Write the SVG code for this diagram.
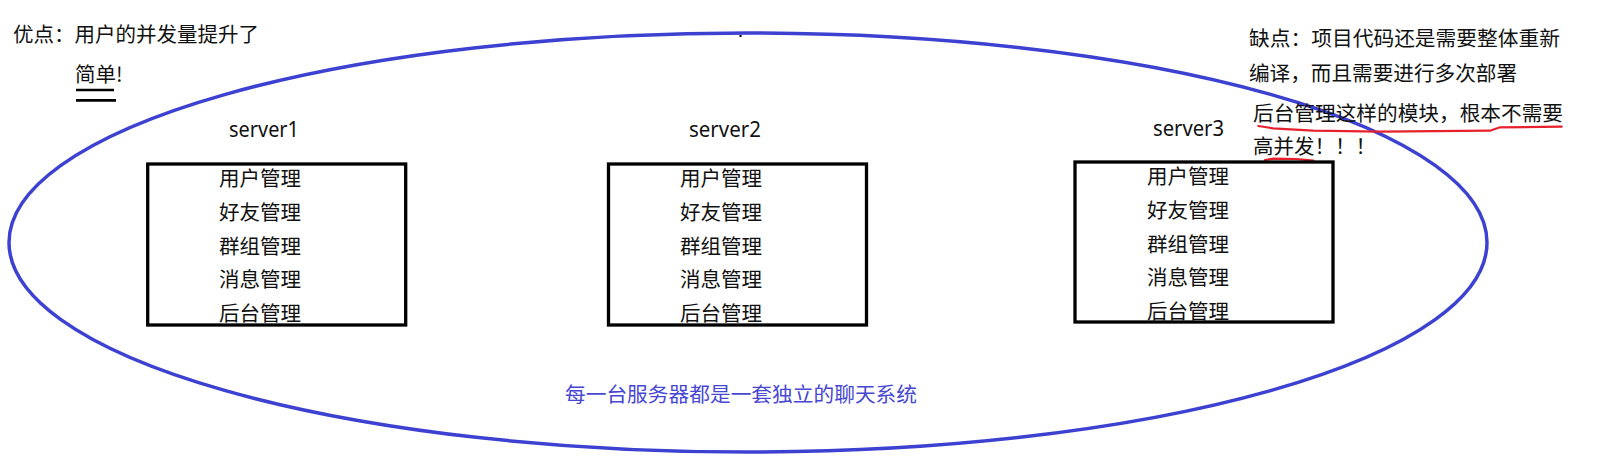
<svg xmlns="http://www.w3.org/2000/svg" width="1618" height="463" viewBox="0 0 1618 463">
  <style>
    .t { font-family: "Noto Sans CJK SC", "Noto Sans", sans-serif; font-size: 20.5px; fill: #111; }
    .lat { font-family: "Noto Sans", "Liberation Sans", sans-serif; font-size: 22px; fill: #111; }
    .blue { fill: #4747d3; }
    .box { fill: none; stroke: #000; stroke-width: 3.3; }
    .red { fill: none; stroke: #e6212b; stroke-width: 2.2; stroke-linecap: round; stroke-linejoin: round; }
  </style>
  <rect width="1618" height="463" fill="#fff"/>

  <g id="connectors">
    <ellipse cx="748" cy="242.5" rx="739" ry="209.5" fill="none" stroke="#3c41d1" stroke-width="3.5"/>
    <rect x="739.5" y="35" width="2" height="2" fill="#000"/>
  </g>

  <g id="pros">
    <text class="t" x="13" y="42" textLength="246" lengthAdjust="spacingAndGlyphs">优点：用户的并发量提升了</text>
    <text class="t" x="75" y="82">简单!</text>
    <line x1="76" y1="90" x2="114" y2="90" stroke="#000" stroke-width="2.4"/>
    <line x1="76" y1="100.3" x2="116" y2="100.3" stroke="#000" stroke-width="2.8"/>
  </g>

  <g id="cons">
    <text class="t" x="1249" y="45.5" textLength="311" lengthAdjust="spacingAndGlyphs">缺点：项目代码还是需要整体重新</text>
    <text class="t" x="1249" y="80.5" textLength="268" lengthAdjust="spacingAndGlyphs">编译，而且需要进行多次部署</text>
    <text class="t" x="1253" y="120.5" textLength="310" lengthAdjust="spacingAndGlyphs">后台管理这样的模块，根本不需要</text>
    <text class="t" x="1253" y="154">高并发！！！</text>
    <path class="red" d="M1258.3,126 Q1265,127 1273,128.3 L1313,130.7 L1380,131.7 L1490,130.7 L1500,127.3 L1561.7,126.7"/>
    <path class="red" d="M1265,160 L1273.3,158.7 L1296.7,159 L1313.3,160.7"/>
  </g>

  <g id="server1">
    <text class="lat" x="229" y="137" textLength="70" lengthAdjust="spacingAndGlyphs">server1</text>
    <text class="t" x="219" y="186">用户管理</text>
    <text class="t" x="219" y="220">好友管理</text>
    <text class="t" x="219" y="254">群组管理</text>
    <text class="t" x="219" y="287">消息管理</text>
    <text class="t" x="219" y="321">后台管理</text>
    <rect class="box" x="147.7" y="164" width="258" height="161"/>
  </g>

  <g id="server2">
    <text class="lat" x="689" y="137" textLength="72" lengthAdjust="spacingAndGlyphs">server2</text>
    <text class="t" x="680" y="186">用户管理</text>
    <text class="t" x="680" y="220">好友管理</text>
    <text class="t" x="680" y="254">群组管理</text>
    <text class="t" x="680" y="287">消息管理</text>
    <text class="t" x="680" y="321">后台管理</text>
    <rect class="box" x="608.5" y="164" width="258" height="161"/>
  </g>

  <g id="server3">
    <text class="lat" x="1153" y="135.7" textLength="71" lengthAdjust="spacingAndGlyphs">server3</text>
    <text class="t" x="1147" y="184">用户管理</text>
    <text class="t" x="1147" y="218">好友管理</text>
    <text class="t" x="1147" y="252">群组管理</text>
    <text class="t" x="1147" y="285">消息管理</text>
    <text class="t" x="1147" y="319">后台管理</text>
    <rect class="box" x="1075" y="162" width="258" height="160"/>
  </g>

  <g id="caption">
    <text class="t blue" x="565" y="402" textLength="352" lengthAdjust="spacingAndGlyphs">每一台服务器都是一套独立的聊天系统</text>
  </g>
</svg>
